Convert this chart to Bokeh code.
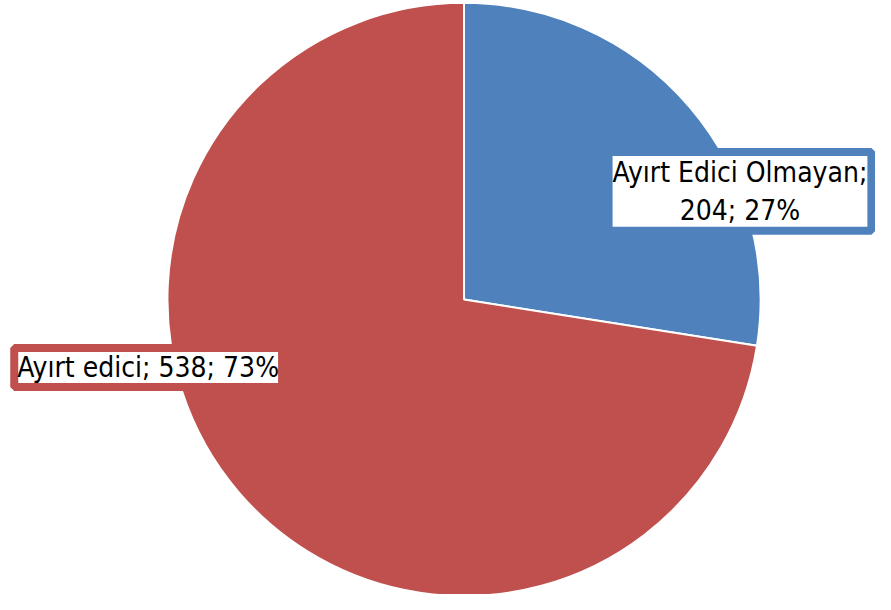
from bokeh.plotting import figure
from bokeh.models import Range1d, Label
from bokeh.embed import file_html
from bokeh.resources import INLINE
import math

categories = ["Ayırt Edici Olmayan", "Ayırt edici"]
values = [204, 538]
percents = ["27%", "73%"]
colors = ["#4F81BD", "#C0504D"]

W, H = 875, 594
p = figure(width=W, height=H, output_backend="svg", toolbar_location=None,
           x_range=Range1d(0, 891), y_range=Range1d(-610, 0),
           x_axis_type=None, y_axis_type=None, min_border=0)
p.outline_line_color = None
p.grid.visible = False
p.background_fill_color = "white"
p.border_fill_color = "white"

cx, cy, r = 472, -307, 302
total = sum(values)
starts, ends = [], []
acc = 0.0
for v in values:
    a0 = math.pi / 2 - 2 * math.pi * acc / total
    acc += v
    a1 = math.pi / 2 - 2 * math.pi * acc / total
    starts.append(a0)
    ends.append(a1)

p.wedge(x=[cx] * len(values), y=[cy] * len(values), radius=r,
        start_angle=starts, end_angle=ends, direction="clock",
        fill_color=colors, line_color="white", line_width=2)

font = "'DejaVu Sans Condensed', 'Liberation Sans Narrow', Roboto, sans-serif"
lab1 = Label(x=753, y=-196, text=f"{categories[0]};\n{values[0]}; {percents[0]}",
             text_align="center", text_baseline="middle", text_font=font,
             text_font_size="28px", text_color="black", text_line_height=1.15,
             background_fill_color="white", border_line_color=colors[0],
             border_line_width=8, padding=4)
lab2 = Label(x=14, y=-377, text=f"{categories[1]}; {values[1]}; {percents[1]}",
             text_align="left", text_baseline="middle", text_font=font,
             text_font_size="28px", text_color="black",
             background_fill_color="white", border_line_color=colors[1],
             border_line_width=8, padding=3)
p.add_layout(lab1)
p.add_layout(lab2)

open("out.html", "w").write(file_html(p, INLINE))
